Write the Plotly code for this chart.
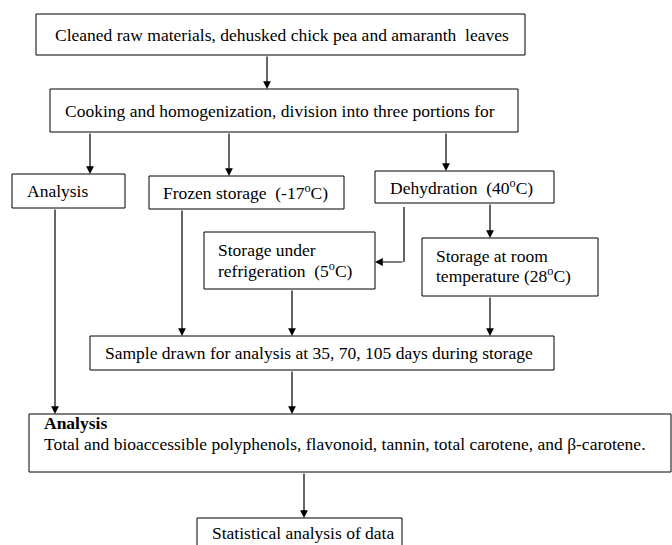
import plotly.graph_objects as go

# ---- content (node labels) ----
node_ids = ["raw", "cook", "ana1", "frozen", "dehyd", "refrig", "room", "sample", "ana2", "stats"]
node_labels = {
    "raw": ["Cleaned raw materials, dehusked chick pea and amaranth  leaves"],
    "cook": ["Cooking and homogenization, division into three portions for"],
    "ana1": ["Analysis"],
    "frozen": ["Frozen storage  (-17<sup>o</sup>C)"],
    "dehyd": ["Dehydration  (40<sup>o</sup>C)"],
    "refrig": ["Storage under", "refrigeration  (5<sup>o</sup>C)"],
    "room": ["Storage at room", "temperature (28<sup>o</sup>C)"],
    "sample": ["Sample drawn for analysis at 35, 70, 105 days during storage"],
    "ana2": ["<b>Analysis</b>", "Total and bioaccessible polyphenols, flavonoid, tannin, total carotene, and \u03b2-carotene."],
    "stats": ["Statistical analysis of data"],
}

# ---- layout geometry (pixel space) ----
boxes = {
    "raw": (36, 14, 525, 55),
    "cook": (50, 89, 518, 132),
    "ana1": (12, 174, 125, 208),
    "frozen": (149, 176, 344, 209),
    "dehyd": (375, 171, 554, 203),
    "refrig": (204, 232, 375, 289),
    "room": (422, 238, 598, 296),
    "sample": (90, 336, 554, 370),
    "ana2": (29, 414, 671, 472),
    "stats": (197, 518, 402, 565),
}
text_pos = {
    "raw": (53, [35]),
    "cook": (63, [111]),
    "ana1": (25, [191]),
    "frozen": (161, [192]),
    "dehyd": (388, [187]),
    "refrig": (216, [250, 270]),
    "room": (434, [256, 275]),
    "sample": (103, [353]),
    "ana2": (42, [423, 444]),
    "stats": (210, [533]),
}
# arrows: (tail_x, tail_y, head_x, head_y)
arrows = [
    (267, 55, 267, 89),
    (90, 132, 90, 174),
    (229, 132, 229, 176),
    (446, 132, 446, 171),
    (55, 208, 55, 414),
    (182, 209, 182, 336),
    (404, 262, 375, 262),
    (490, 203, 490, 238),
    (292, 289, 292, 336),
    (490, 296, 490, 336),
    (292, 370, 292, 414),
    (304, 472, 304, 518),
]
plain_lines = [
    (404, 207, 404, 262),
]

FONT = dict(family="Liberation Serif, Times New Roman, serif", size=17.5, color="black")

fig = go.Figure()
shapes = []
for nid in node_ids:
    x0, y0, x1, y1 = boxes[nid]
    shapes.append(dict(type="rect", x0=x0, y0=y0, x1=x1, y1=y1, xref="x", yref="y",
                       line=dict(color="black", width=1), fillcolor="white", layer="below"))
for (x0, y0, x1, y1) in plain_lines:
    shapes.append(dict(type="line", x0=x0, y0=y0, x1=x1, y1=y1, xref="x", yref="y",
                       line=dict(color="black", width=1.2)))

annotations = []
for nid in node_ids:
    tx, tys = text_pos[nid]
    for line, ty in zip(node_labels[nid], tys):
        annotations.append(dict(x=tx, y=ty, xref="x", yref="y", text=line, showarrow=False,
                                xanchor="left", yanchor="middle", font=FONT))
for (ax, ay, hx, hy) in arrows:
    annotations.append(dict(x=hx, y=hy, ax=ax, ay=ay, xref="x", yref="y", axref="x", ayref="y",
                            text="", showarrow=True, arrowhead=2, arrowsize=1.3, arrowwidth=1.2,
                            arrowcolor="black", standoff=0, startstandoff=0))

fig.update_layout(
    width=672, height=545,
    margin=dict(l=0, r=0, t=0, b=0),
    paper_bgcolor="white", plot_bgcolor="white",
    xaxis=dict(range=[0, 672], visible=False, fixedrange=True),
    yaxis=dict(range=[545, 0], visible=False, fixedrange=True),
    shapes=shapes, annotations=annotations, showlegend=False,
)
fig.write_html("out.html", config={"displayModeBar": False},
               post_script="document.body.style.margin='0';document.body.style.overflow='hidden';")
